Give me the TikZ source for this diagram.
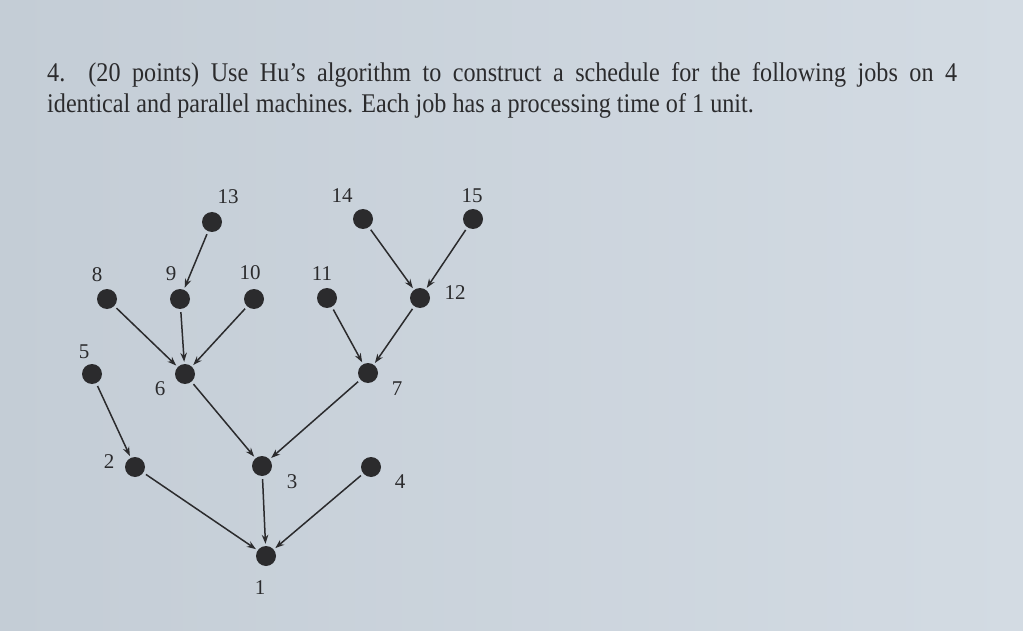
\documentclass[tikz,border=0pt]{standalone}
\usepackage{fontspec}
\setmainfont{Liberation Serif}
\newfontfamily\narrowserif[FakeStretch=0.895]{Liberation Serif}
\usetikzlibrary{arrows.meta}
\definecolor{screen}{HTML}{C4CDD6}
\definecolor{screenlight}{HTML}{D3DBE3}
\definecolor{ink}{HTML}{2B2B2D}
\tikzset{
  job/.style={circle, fill=ink, inner sep=0pt, minimum size=20pt},
  num/.style={inner sep=0pt, text=ink, font=\fontsize{21}{24}\selectfont},
  prec/.style={-{Stealth[length=9pt,width=6.5pt]}, line width=1.5pt, draw=ink,
    shorten <=3pt, shorten >=2pt}
}
\begin{document}
\begin{tikzpicture}[x=1pt, y=-1pt]
        % Background of the page
        \useasboundingbox (0,0) rectangle (1023,631);
        \shade[left color=screen, right color=screenlight] (0,0) rectangle (1023,631);

        % Question text
        \node[anchor=north west, inner sep=0pt, text width=910pt, align=justify,
          text=ink, font=\narrowserif\fontsize{27}{31}\selectfont] (question) at (47,62)
          {4.\ \ (20 points) Use Hu’s algorithm to construct a schedule for the following jobs on 4\linebreak
           identical and parallel machines. Each job has a processing time of 1 unit.};

        % Jobs
        \node[job] (j13) at (212,222) {};
        \node[job] (j14) at (363,219) {};
        \node[job] (j15) at (473,219) {};
        \node[job] (j8) at (107,299) {};
        \node[job] (j9) at (180,299) {};
        \node[job] (j10) at (254,299) {};
        \node[job] (j11) at (327,298) {};
        \node[job] (j12) at (420,298) {};
        \node[job] (j5) at (92,374) {};
        \node[job] (j6) at (185,374) {};
        \node[job] (j7) at (368,373) {};
        \node[job] (j2) at (135,467) {};
        \node[job] (j3) at (262,466) {};
        \node[job] (j4) at (371,467) {};
        \node[job] (j1) at (266,556) {};

        % Job numbers
        \node[num] (n13) at (228,197) {13};
        \node[num] (n14) at (342,196) {14};
        \node[num] (n15) at (472,196) {15};
        \node[num] (n8) at (97,275) {8};
        \node[num] (n9) at (171,274) {9};
        \node[num] (n10) at (250,273) {10};
        \node[num] (n11) at (322,274) {11};
        \node[num] (n12) at (455,293) {12};
        \node[num] (n5) at (84,352) {5};
        \node[num] (n6) at (160,389) {6};
        \node[num] (n7) at (397,389) {7};
        \node[num] (n2) at (109,462) {2};
        \node[num] (n3) at (292,482) {3};
        \node[num] (n4) at (400,482) {4};
        \node[num] (n1) at (260,588) {1};

        % Precedence arcs
        \draw[prec] (j13) -- (j9);
        \draw[prec] (j8) -- (j6);
        \draw[prec] (j9) -- (j6);
        \draw[prec] (j10) -- (j6);
        \draw[prec] (j14) -- (j12);
        \draw[prec] (j15) -- (j12);
        \draw[prec] (j11) -- (j7);
        \draw[prec] (j12) -- (j7);
        \draw[prec] (j5) -- (j2);
        \draw[prec] (j6) -- (j3);
        \draw[prec] (j7) -- (j3);
        \draw[prec] (j2) -- (j1);
        \draw[prec] (j3) -- (j1);
        \draw[prec] (j4) -- (j1);
    \end{tikzpicture}
\end{document}
